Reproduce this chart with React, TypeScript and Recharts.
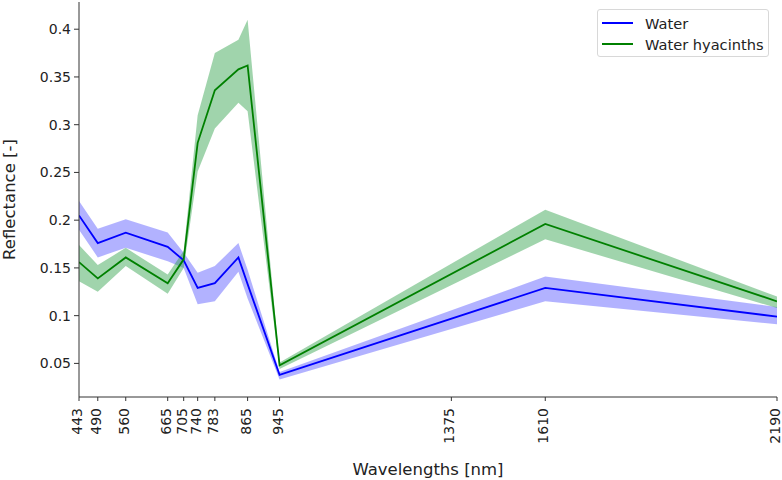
import {
  ComposedChart, Line, Area, XAxis, YAxis,
} from 'recharts'

const wavelengths = [443, 490, 560, 665, 705, 740, 783, 842, 865, 945, 1610, 2190]
const xTicks = [443, 490, 560, 665, 705, 740, 783, 865, 945, 1375, 1610, 2190]
const yTicks = [0.05, 0.1, 0.15, 0.2, 0.25, 0.3, 0.35, 0.4]

const waterMean = [0.205, 0.176, 0.187, 0.172, 0.158, 0.129, 0.134, 0.161, 0.133, 0.038, 0.129, 0.099]
const waterLow = [0.190, 0.161, 0.171, 0.157, 0.150, 0.112, 0.115, 0.146, 0.118, 0.033, 0.115, 0.091]
const waterHigh = [0.220, 0.191, 0.201, 0.187, 0.166, 0.145, 0.152, 0.176, 0.148, 0.041, 0.141, 0.109]

const hyacinthMean = [0.156, 0.139, 0.161, 0.134, 0.159, 0.281, 0.336, 0.358, 0.362, 0.048, 0.196, 0.115]
const hyacinthLow = [0.136, 0.125, 0.152, 0.123, 0.150, 0.251, 0.296, 0.323, 0.314, 0.044, 0.180, 0.108]
const hyacinthHigh = [0.174, 0.153, 0.171, 0.143, 0.168, 0.310, 0.375, 0.389, 0.410, 0.051, 0.211, 0.120]

const font = 'DejaVu Sans, sans-serif'
const axisColor = '#333'

const data = wavelengths.map((w, i) => ({
  w,
  water: waterMean[i],
  waterBand: [waterLow[i], waterHigh[i]],
  hyacinth: hyacinthMean[i],
  hyacinthBand: [hyacinthLow[i], hyacinthHigh[i]],
}))

function RotatedTick({ x, y, payload }: any) {
  return (
    <g transform={`translate(${x},${y})`}>
      <text
        x={0}
        y={0}
        dy="0.22em"
        transform="rotate(-90)"
        textAnchor="end"
        fontSize={14}
        fontFamily={font}
        fill="#222"
      >
        {payload.value}
      </text>
    </g>
  )
}

function LegendBox() {
  const items = [
    { name: 'Water', color: '#0000ff' },
    { name: 'Water hyacinths', color: '#008000' },
  ]
  return (
    <div
      style={{
        position: 'absolute',
        left: 597,
        top: 9,
        width: 170,
        height: 46,
        border: '1px solid #d8d8d8',
        borderRadius: 3,
        background: 'rgba(255,255,255,0.8)',
        fontFamily: font,
        fontSize: 14.6,
        color: '#222',
      }}
    >
      {items.map((it, i) => (
        <div key={it.name} style={{ display: 'flex', alignItems: 'center', height: 20, marginTop: i === 0 ? 3 : 1 }}>
          <span style={{ display: 'inline-block', width: 31, height: 0, borderTop: `2px solid ${it.color}`, marginLeft: 4, marginRight: 12 }} />
          <span>{it.name}</span>
        </div>
      ))}
    </div>
  )
}

export default function App() {
  return (
    <div style={{ position: 'absolute', left: 0, top: 0, width: 782, height: 480, background: '#fff' }}>
      <ComposedChart
        width={782}
        height={480}
        data={data}
        margin={{ top: 2, right: 5, bottom: 0, left: 0 }}
        style={{ overflow: 'visible' }}
      >
        <XAxis
          dataKey="w"
          type="number"
          domain={[443, 2190]}
          ticks={xTicks}
          interval={0}
          allowDataOverflow
          height={83}
          tick={<RotatedTick />}
          tickSize={4}
          tickMargin={7}
          stroke={axisColor}
          label={{ value: 'Wavelengths [nm]', position: 'insideBottom', offset: 5, fontSize: 16.5, fontFamily: font, fill: '#222' }}
        />
        <XAxis xAxisId="top" dataKey="w" type="number" domain={[443, 2190]} orientation="top" height={0} tick={false} tickLine={false} stroke={axisColor} />
        <YAxis
          domain={[0.0148, 0.4285]}
          ticks={yTicks}
          allowDataOverflow
          width={79}
          tickSize={5}
          tickMargin={3}
          stroke={axisColor}
          tick={{ fontSize: 14, fontFamily: font, fill: '#222' }}
          tickFormatter={(v: number) => String(Number(v.toFixed(2)))}
          label={{ value: 'Reflectance [-]', angle: -90, position: 'insideLeft', offset: 9, fontSize: 16.5, fontFamily: font, fill: '#222', style: { textAnchor: 'middle' } }}
        />
        <YAxis yAxisId="right" orientation="right" width={0} tick={false} tickLine={false} stroke={axisColor} />
        <Area type="linear" dataKey="waterBand" stroke="none" fill="#0000ff" fillOpacity={0.3} isAnimationActive={false} />
        <Area type="linear" dataKey="hyacinthBand" stroke="none" fill="#2ca048" fillOpacity={0.45} isAnimationActive={false} />
        <Line type="linear" dataKey="water" stroke="#0000ff" strokeWidth={1.8} dot={false} isAnimationActive={false} />
        <Line type="linear" dataKey="hyacinth" stroke="#008000" strokeWidth={1.8} dot={false} isAnimationActive={false} />
      </ComposedChart>
      <LegendBox />
    </div>
  )
}
